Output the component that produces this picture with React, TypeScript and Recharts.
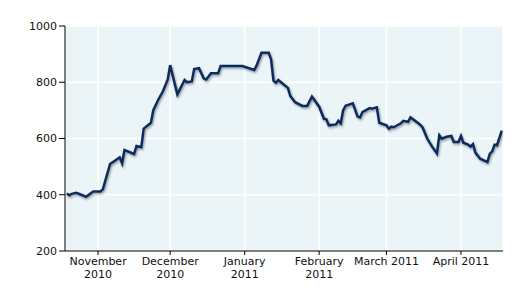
import { LineChart, Line, XAxis, YAxis, CartesianGrid } from "recharts";

// daily closes (dates are approximate trading days)
const dates = [
  "2010-10-19", "2010-10-20", "2010-10-21", "2010-10-23", "2010-10-27", "2010-10-30",
  "2010-11-02", "2010-11-03", "2010-11-06", "2010-11-08", "2010-11-10", "2010-11-11",
  "2010-11-12", "2010-11-16", "2010-11-17", "2010-11-19", "2010-11-20", "2010-11-23",
  "2010-11-24", "2010-11-26", "2010-11-28", "2010-11-30", "2010-12-01", "2010-12-04",
  "2010-12-07", "2010-12-08", "2010-12-10", "2010-12-11", "2010-12-13", "2010-12-15",
  "2010-12-16", "2010-12-18", "2010-12-21", "2010-12-22", "2010-12-31", "2011-01-05",
  "2011-01-06", "2011-01-08", "2011-01-11", "2011-01-12", "2011-01-13", "2011-01-14",
  "2011-01-15", "2011-01-17", "2011-01-19", "2011-01-20", "2011-01-22", "2011-01-25",
  "2011-01-27", "2011-01-29", "2011-02-01", "2011-02-03", "2011-02-04", "2011-02-05",
  "2011-02-08", "2011-02-09", "2011-02-10", "2011-02-11", "2011-02-12", "2011-02-15",
  "2011-02-17", "2011-02-18", "2011-02-19", "2011-02-22", "2011-02-23", "2011-02-25",
  "2011-02-26", "2011-03-01", "2011-03-02", "2011-03-03", "2011-03-04", "2011-03-07",
  "2011-03-08", "2011-03-10", "2011-03-11", "2011-03-14", "2011-03-15", "2011-03-16",
  "2011-03-18", "2011-03-20", "2011-03-22", "2011-03-23", "2011-03-24", "2011-03-26",
  "2011-03-28", "2011-03-29", "2011-03-31", "2011-04-01", "2011-04-02", "2011-04-04",
  "2011-04-05", "2011-04-06", "2011-04-07", "2011-04-09", "2011-04-12", "2011-04-13",
  "2011-04-14", "2011-04-15", "2011-04-16", "2011-04-18",
];

const prices = [
  405, 398, 403, 407, 393, 412,
  412, 419, 509, 521, 533, 512,
  559, 545, 573, 569, 635, 656,
  701, 737, 768, 810, 861, 757,
  808, 800, 803, 847, 850, 813,
  810, 832, 832, 858, 858, 844,
  860, 905, 905, 882, 806, 798,
  808, 794, 780, 751, 729, 716,
  716, 749, 713, 670, 668, 647,
  650, 663, 654, 701, 716, 725,
  678, 675, 694, 708, 706, 711,
  656, 647, 635, 642, 640, 654,
  663, 659, 675, 656, 649, 640,
  599, 571, 547, 611, 599, 606,
  609, 588, 588, 609, 585, 578,
  571, 580, 550, 528, 516, 545,
  554, 578, 576, 628,
];

const monthTicks = ["2010-11-01", "2010-12-01", "2011-01-01", "2011-02-01", "2011-03-01", "2011-04-01"];
const monthLabels = ["November\n2010", "December\n2010", "January\n2011", "February\n2011", "March 2011", "April 2011"];
const yTicks = [200, 400, 600, 800, 1000];

const data = dates.map((d, i) => ({ t: Date.parse(d), v: prices[i] }));
const tickTimes = monthTicks.map((d) => Date.parse(d));
const X_MIN = Date.UTC(2010, 9, 18, 6);
const X_MAX = Date.UTC(2011, 3, 18, 12);

const FONT = "'DejaVu Sans', Verdana, sans-serif";

function MonthTick(props: any) {
  const { x, y, payload } = props;
  const idx = tickTimes.indexOf(payload.value);
  const lines = (monthLabels[idx] ?? "").split("\n");
  return (
    <g transform={`translate(${x},${y})`}>
      <text textAnchor="middle" fill="#111" fontSize={11} fontFamily={FONT}>
        {lines.map((l, i) => (
          <tspan key={i} x={0} dy={i === 0 ? "0.71em" : 13}>
            {l}
          </tspan>
        ))}
      </text>
    </g>
  );
}

export default function App() {
  return (
    <LineChart width={512} height={291} data={data} margin={{ top: 18, right: 17, left: 0, bottom: 18 }}>
      <defs>
        <filter id="lineShadow" x="-5%" y="-5%" width="110%" height="120%">
          <feDropShadow dx="1" dy="1.5" stdDeviation="0.8" floodColor="#000" floodOpacity="0.4" />
        </filter>
      </defs>
      <CartesianGrid fill="#ebf5f8" stroke="#ffffff" strokeWidth={1.5} />
      <XAxis
        dataKey="t"
        type="number"
        domain={[X_MIN, X_MAX]}
        allowDataOverflow
        ticks={tickTimes}
        tick={<MonthTick />}
        tickSize={4}
        tickMargin={2}
        height={30}
        stroke="#000"
        interval={0}
      />
      <YAxis
        domain={[200, 1000]}
        ticks={yTicks}
        width={57}
        tickSize={6}
        tickMargin={2}
        stroke="#000"
        tick={{ fill: "#111", fontSize: 11, fontFamily: FONT }}
        interval={0}
      />
      <Line
        type="linear"
        dataKey="v"
        stroke="#0f2c5e"
        strokeWidth={2.5}
        dot={false}
        filter="url(#lineShadow)"
        isAnimationActive={false}
      />
    </LineChart>
  );
}
